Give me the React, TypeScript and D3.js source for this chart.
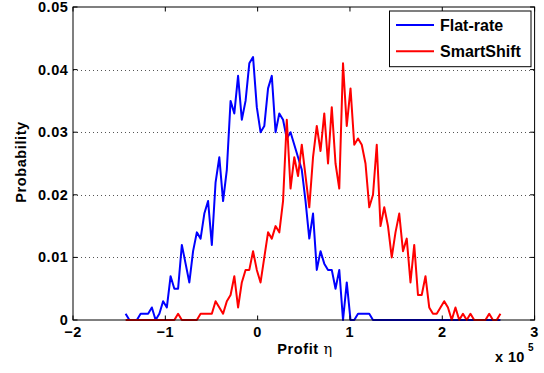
import React from "react";
import * as d3 from "d3";

// Histogram bin centres (x in units of 1e5)
const BIN_START = -1.43;
const BIN_WIDTH = 0.0406;

const flatRate = [
  0.001, 0, 0, 0, 0.001, 0.001, 0.001, 0.002, 0, 0.001,
  0.003, 0.002, 0.007, 0.005, 0.005, 0.012, 0.009, 0.006, 0.011, 0.014,
  0.013, 0.017, 0.019, 0.012, 0.022, 0.026, 0.019, 0.024, 0.035, 0.033,
  0.039, 0.032, 0.035, 0.041, 0.042, 0.034, 0.030, 0.031, 0.037, 0.039,
  0.030, 0.033, 0.032, 0.029, 0.030, 0.028, 0.026, 0.024, 0.019, 0.013,
  0.017, 0.008, 0.011, 0.009, 0.008, 0.008, 0.005, 0.008, 0, 0.006,
  0, 0, 0.001, 0.001, 0.001, 0.001, 0, 0, 0, 0,
  0, 0, 0, 0, 0, 0, 0, 0, 0, 0,
  0, 0, 0, 0, 0, 0, 0, 0, 0, 0,
  0, 0, 0, 0, 0, 0, 0, 0, 0, 0,
  0,
];

const smartShift = [
  0, 0, 0, 0, 0, 0, 0, 0, 0, 0,
  0, 0, 0, 0, 0.001, 0, 0, 0, 0, 0,
  0.001, 0.001, 0.001, 0.001, 0.003, 0.002, 0.001, 0.003, 0.004, 0.007,
  0.002, 0.006, 0.008, 0.008, 0.011, 0.008, 0.006, 0.010, 0.014, 0.013,
  0.015, 0.014, 0.019, 0.032, 0.021, 0.026, 0.023, 0.028, 0.023, 0.018,
  0.026, 0.031, 0.027, 0.033, 0.025, 0.034, 0.025, 0.021, 0.041, 0.031,
  0.037, 0.028, 0.029, 0.028, 0.025, 0.018, 0.020, 0.028, 0.015, 0.018,
  0.015, 0.010, 0.014, 0.017, 0.011, 0.013, 0.006, 0.012, 0.004, 0.004,
  0.007, 0.002, 0.001, 0.001, 0.002, 0.003, 0.002, 0, 0.002, 0,
  0.001, 0, 0.001, 0, 0, 0, 0, 0.001, 0, 0,
  0.001,
];

const binCenters = flatRate.map((_, i) => BIN_START + i * BIN_WIDTH);

const xTicks = [-2, -1, 0, 1, 2, 3];
const yTicks = [0, 0.01, 0.02, 0.03, 0.04, 0.05];
const gridTicks = [0.01, 0.02, 0.03, 0.04];
const seriesNames = ["Flat-rate", "SmartShift"];
const seriesColors = ["#0000ff", "#ff0000"];

const W = 544;
const H = 373;
const M = { left: 73, right: 534.6, top: 7, bottom: 320 };
const FONT = "'Liberation Sans', Arial, Helvetica, sans-serif";

export default function App() {
  const x = d3.scaleLinear().domain([-2, 3]).range([M.left, M.right]);
  const y = d3.scaleLinear().domain([0, 0.05]).range([M.bottom, M.top]);

  const line = d3
    .line<number>()
    .x((_, i) => x(binCenters[i]))
    .y((d) => y(d));

  const series = [flatRate, smartShift];
  const tickLen = 4.5;

  const fmtX = (v: number) => (v < 0 ? "\u2212" + Math.abs(v) : String(v));
  const fmtY = (v: number) => (v === 0 ? "0" : v.toFixed(2));

  return (
    <svg
      width={W}
      height={H}
      style={{ position: "absolute", left: 0, top: 0, display: "block", background: "#fff" }}
      fontFamily={FONT}
      fontWeight="bold"
    >
      <rect x={0} y={0} width={W} height={H} fill="#fff" />
      {/* grid */}
      {gridTicks.map((t) => (
        <line
          key={"g" + t}
          x1={M.left}
          x2={M.right}
          y1={Math.round(y(t)) + 0.5}
          y2={Math.round(y(t)) + 0.5}
          stroke="#555"
          strokeWidth={1}
          strokeDasharray="1 3"
        />
      ))}
      {/* data */}
      {series.map((s, k) => (
        <path
          key={"s" + k}
          d={line(s) || ""}
          fill="none"
          stroke={seriesColors[k]}
          strokeWidth={2}
          strokeLinejoin="round"
        />
      ))}
      {/* axes box */}
      <rect
        x={M.left}
        y={M.top}
        width={M.right - M.left}
        height={M.bottom - M.top}
        fill="none"
        stroke="#000"
        strokeWidth={1}
      />
      {/* x ticks */}
      {xTicks.map((t) => (
        <g key={"xt" + t}>
          <line x1={x(t)} x2={x(t)} y1={M.bottom} y2={M.bottom - tickLen} stroke="#000" />
          <line x1={x(t)} x2={x(t)} y1={M.top} y2={M.top + tickLen} stroke="#000" />
          <text x={x(t)} y={337} textAnchor="middle" fontSize={14.5} letterSpacing={0.6}>
            {fmtX(t)}
          </text>
        </g>
      ))}
      {/* y ticks */}
      {yTicks.map((t) => (
        <g key={"yt" + t}>
          <line x1={M.left} x2={M.left + tickLen} y1={y(t)} y2={y(t)} stroke="#000" />
          <line x1={M.right} x2={M.right - tickLen} y1={y(t)} y2={y(t)} stroke="#000" />
          <text x={68.5} y={y(t) + 5} textAnchor="end" fontSize={14.5} letterSpacing={0.6}>
            {fmtY(t)}
          </text>
        </g>
      ))}
      {/* axis labels */}
      <text x={305} y={353.5} textAnchor="middle" fontSize={14.5} letterSpacing={0.6}>
        Profit{" "}
        <tspan fontWeight="normal" fontFamily="'DejaVu Serif', serif">
          η
        </tspan>
      </text>
      <text
        transform={`translate(26,162) rotate(-90)`}
        textAnchor="middle"
        fontSize={14.5}
        letterSpacing={0.6}
      >
        Probability
      </text>
      <text x={495} y={362} fontSize={14.5} letterSpacing={0.4}>
        x 10
      </text>
      <text x={528} y={351} fontSize={10}>
        5
      </text>
      {/* legend */}
      <rect x={389.5} y={11} width={141.5} height={55.7} fill="#fff" stroke="#000" strokeWidth={1} />
      {seriesNames.map((n, k) => (
        <g key={"l" + k}>
          <line
            x1={396}
            x2={434}
            y1={25 + k * 26.3}
            y2={25 + k * 26.3}
            stroke={seriesColors[k]}
            strokeWidth={2}
          />
          <text x={440} y={31 + k * 26.3} fontSize={16}>
            {n}
          </text>
        </g>
      ))}
    </svg>
  );
}
